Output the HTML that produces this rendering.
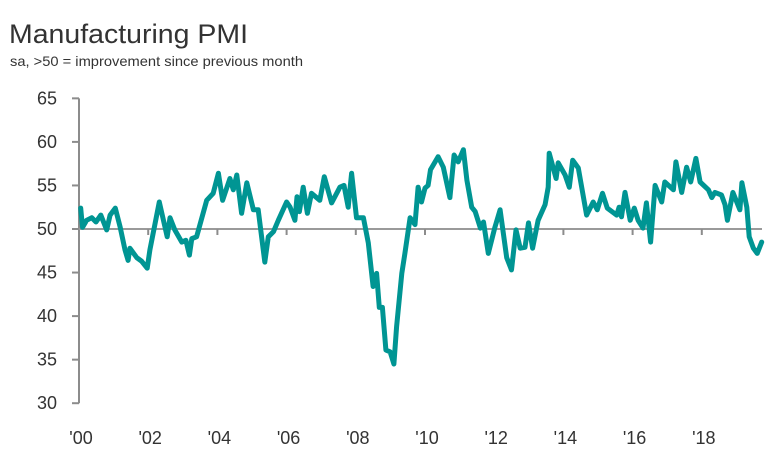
<!DOCTYPE html>
<html><head><meta charset="utf-8"><style>
body{margin:0;background:#fff;width:773px;height:452px;overflow:hidden;font-family:"Liberation Sans",sans-serif}
</style></head><body>
<svg id="chart" width="773" height="452" xmlns="http://www.w3.org/2000/svg">
<text x="9" y="43" font-size="27" fill="#333" font-family="Liberation Sans, sans-serif" textLength="239" lengthAdjust="spacingAndGlyphs">Manufacturing PMI</text>
<text x="10" y="66" font-size="14" fill="#333" font-family="Liberation Sans, sans-serif" textLength="293" lengthAdjust="spacingAndGlyphs">sa, &gt;50 = improvement since previous month</text>
<g id="axes"></g>
<g id="series"></g>
</svg>
<script>
const yTicks=[30,35,40,45,50,55,60,65];
const xTickYears=[2000,2002,2004,2006,2008,2010,2012,2014,2016,2018];
const xTickLabels=["'00","'02","'04","'06","'08","'10","'12","'14","'16","'18"];
const dates=[2000.05,2000.1,2000.22,2000.37,2000.49,2000.63,2000.8,2000.9,2001.05,2001.19,2001.33,2001.42,2001.47,2001.67,2001.81,2001.97,2002.05,2002.32,2002.55,2002.63,2002.77,2002.97,2003.09,2003.19,2003.26,2003.4,2003.69,2003.88,2004.03,2004.15,2004.36,2004.46,2004.56,2004.7,2004.85,2005.04,2005.18,2005.37,2005.47,2005.62,2005.76,2006.0,2006.1,2006.24,2006.3,2006.37,2006.48,2006.6,2006.72,2006.96,2007.09,2007.3,2007.54,2007.66,2007.78,2007.88,2008.02,2008.22,2008.36,2008.5,2008.6,2008.68,2008.77,2008.87,2008.99,2009.1,2009.18,2009.33,2009.42,2009.57,2009.71,2009.8,2009.9,2010.0,2010.09,2010.16,2010.38,2010.53,2010.72,2010.84,2010.96,2011.11,2011.21,2011.35,2011.45,2011.6,2011.69,2011.83,2012.02,2012.17,2012.36,2012.5,2012.63,2012.75,2012.89,2012.99,2013.11,2013.27,2013.47,2013.56,2013.59,2013.79,2013.85,2014.05,2014.17,2014.27,2014.43,2014.67,2014.86,2014.98,2015.13,2015.27,2015.54,2015.61,2015.68,2015.78,2015.93,2016.05,2016.16,2016.3,2016.4,2016.52,2016.65,2016.84,2016.93,2017.18,2017.25,2017.42,2017.56,2017.68,2017.83,2017.95,2018.19,2018.29,2018.38,2018.57,2018.67,2018.74,2018.9,2019.1,2019.16,2019.3,2019.37,2019.49,2019.6,2019.73];
const pmi=[52.4,50.2,51,51.3,50.8,51.6,49.9,51.6,52.4,50.2,47.6,46.4,47.8,46.7,46.3,45.5,47.6,53.1,49.1,51.3,49.9,48.5,48.7,47.0,48.9,49.1,53.3,54.1,56.4,53.3,55.8,54.5,56.2,51.8,55.3,52.2,52.2,46.2,49.1,49.7,51,53.1,52.5,51,53.7,52,54.8,51.8,54.1,53.3,56,53,54.8,55,52.5,56.4,51.3,51.3,48.4,43.4,44.9,41,41,36.1,35.9,34.5,38.8,44.9,47.2,51.3,50.5,54.8,53.1,54.7,55,56.8,58.3,57.1,53.6,58.5,57.7,59.1,55.6,52.5,52,50.1,50.8,47.2,50.2,52.2,46.7,45.3,49.9,47.8,47.9,50.7,47.8,51,52.8,54.8,58.7,55.8,57.6,56.2,54.8,57.9,57,51.6,53.1,52.2,54.1,52.4,51.6,52.5,51.4,54.2,51,52.4,51,50.1,53,48.5,55,53.1,55.4,54.5,57.7,54.2,57.1,55.4,58.1,55.4,54.5,53.6,54.2,53.9,52.8,51,54.2,52.2,55.3,52.5,49.1,47.8,47.2,48.5];

const NS="http://www.w3.org/2000/svg";
const X0=79,Y50=229,PXY=34.6,PXV=8.71,XR=762;
const xs=d=>X0+(d-2000)*PXY;
const ys=v=>Y50-(v-50)*PXV;
const axes=document.getElementById('axes');
function mk(tag,attrs,parent){const e=document.createElementNS(NS,tag);for(const k in attrs)e.setAttribute(k,attrs[k]);parent.appendChild(e);return e;}

let yl=mk('line',{x1:X0,x2:X0,y1:ys(65),y2:ys(30),stroke:'#8c8c8c','stroke-width':2},axes);


yTicks.forEach(v=>{
  const t=mk('line',{x1:X0-7,x2:X0,y1:ys(v),y2:ys(v),stroke:'#8c8c8c','stroke-width':2},axes);
  
  
  const l=mk('text',{x:57,y:ys(v)+6,'text-anchor':'end','font-size':18,fill:'#333'},axes);
  l.textContent=v;
  
  
});
let bl=mk('line',{x1:X0,x2:XR,y1:Y50,y2:Y50,stroke:'#9a9a9a','stroke-width':2},axes);


xTickYears.forEach((yr,i)=>{
  if(i>0){const t=mk('line',{x1:xs(yr),x2:xs(yr),y1:Y50,y2:Y50+6,stroke:'#8c8c8c','stroke-width':2},axes);
  
  }
  const l=mk('text',{x:xs(yr)+2,y:444,'text-anchor':'middle','font-size':18,fill:'#333'},axes);
  l.textContent=xTickLabels[i];
  
  
});
const pts=dates.map((d,i)=>xs(d).toFixed(1)+','+ys(pmi[i]).toFixed(1)).join(' ');
const line=mk('polyline',{points:pts,fill:'none',stroke:'#009593','stroke-width':5,'stroke-linejoin':'round','stroke-linecap':'round'},document.getElementById('series'));


</script>
</body></html>
